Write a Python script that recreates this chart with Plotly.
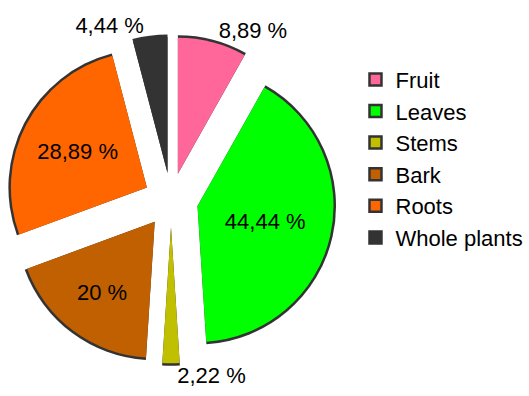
import plotly.graph_objects as go

# ---- data ----
categories = ["Fruit", "Leaves", "Stems", "Bark", "Roots", "Whole plants"]
counts = [4, 20, 1, 9, 13, 2]
pct_labels = ["8,89 %", "44,44 %", "2,22 %", "20 %", "28,89 %", "4,44 %"]
colors = ["#FF6699", "#00FF00", "#C0BF00", "#C06000", "#FF6600", "#333333"]
text_positions = ["outside", "inside", "outside", "inside", "inside", "outside"]

# ---- geometry (pixels) ----
W, H = 529, 396
cx, cy = 171, 200          # pie centre
R = 136                    # slice radius
pull = 0.2                 # explode fraction
band = 2.5                 # dark rim width

def dom(center_x, center_y, size):
    return dict(x=[(center_x - size / 2) / W, (center_x + size / 2) / W],
                y=[1 - (center_y + size / 2) / H, 1 - (center_y - size / 2) / H])

FONT = "Liberation Sans, Arial, sans-serif"
fig = go.Figure()

# legend-only pie (tiny, hidden under the Leaves slice) - gives outlined swatches
fig.add_trace(go.Pie(
    labels=categories, values=counts, sort=False, direction="clockwise",
    marker=dict(colors=colors, line=dict(color="#333333", width=2.5)),
    textinfo="none", hoverinfo="skip", showlegend=True,
    domain=dom(265, 260, 8),
))

# dark rim pie (slightly larger, same apex positions)
R1 = R + band
p1 = pull * R / R1
D1 = 2 * R1 + 2 * pull * R
fig.add_trace(go.Pie(
    labels=categories, values=counts, sort=False, direction="clockwise",
    marker=dict(colors=["#333333"] * len(counts), line=dict(width=0)),
    pull=[p1] * len(counts), textinfo="none", hoverinfo="skip",
    showlegend=False, domain=dom(cx, cy, D1),
))

# main coloured pie
D2 = 2 * R * (1 + pull)
fig.add_trace(go.Pie(
    labels=categories, values=counts, sort=False, direction="clockwise",
    marker=dict(colors=colors, line=dict(width=0)),
    pull=[pull] * len(counts), text=pct_labels, textinfo="text",
    textposition=text_positions, insidetextorientation="horizontal",
    textfont=dict(family=FONT, size=22, color="black"),
    showlegend=False, domain=dom(cx, cy, D2),
))

fig.update_layout(
    width=W, height=H,
    margin=dict(l=0, r=0, t=0, b=0, autoexpand=False),
    paper_bgcolor="white", plot_bgcolor="white",
    showlegend=True,
    legend=dict(x=0.672, y=0.852, xanchor="left", yanchor="top",
                font=dict(family=FONT, size=22, color="black"),
                bgcolor="rgba(0,0,0,0)"),
)

fig.write_html("out.html")
